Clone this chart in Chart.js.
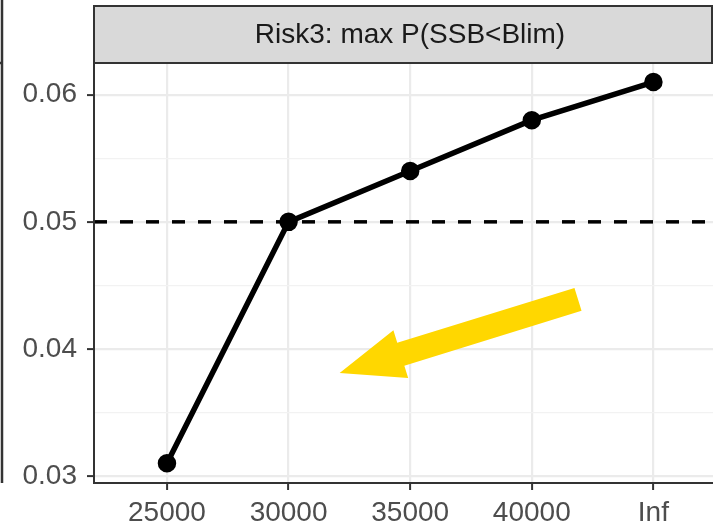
<!DOCTYPE html>
<html lang="en">
<head>
    <meta charset="UTF-8">
    <title>Risk3: max P(SSB&lt;Blim)</title>
    <style>
        html, body {
            margin: 0;
            padding: 0;
            background: #ffffff;
        }
        #chart {
            display: block;
        }
    </style>
    <script src="https://cdn.jsdelivr.net/npm/chart.js"></script>
</head>
<body>
    <canvas id="chart" width="713" height="527"></canvas>

    <script>
        // data
        const categories = ['25000', '30000', '35000', '40000', 'Inf'];
        const riskValues = [0.031, 0.050, 0.054, 0.058, 0.061];
        const stripTitle = 'Risk3: max P(SSB<Blim)';
        const yMajorTicks = [0.03, 0.04, 0.05, 0.06];
        const yMinorTicks = [0.035, 0.045, 0.055];
        const riskLimit = 0.05;
        // arrow annotation: [category index, value]
        const arrowFrom = [3.38, 0.0439];
        const arrowTo = [1.42, 0.0381];

        const FONT = "'Liberation Sans', Arial, sans-serif";
        const isMajor = v => yMajorTicks.some(t => Math.abs(t - v) < 1e-9);

        // ggplot-like facet strip, border, hline and arrow
        const ggPlugin = {
            id: 'ggDecor',
            beforeDatasetsDraw(chart) {
                const { ctx, chartArea: a, scales } = chart;
                const y = scales.y.getPixelForValue(riskLimit);
                ctx.save();
                ctx.strokeStyle = '#000';
                ctx.lineWidth = 3.5;
                ctx.setLineDash([13, 13]);
                ctx.beginPath();
                ctx.moveTo(a.left, y);
                ctx.lineTo(a.right, y);
                ctx.stroke();
                ctx.restore();
            },
            afterDatasetsDraw(chart) {
                const { ctx, scales } = chart;
                const x0 = scales.x.getPixelForValue(arrowFrom[0]);
                const y0 = scales.y.getPixelForValue(arrowFrom[1]);
                const x1 = scales.x.getPixelForValue(arrowTo[0]);
                const y1 = scales.y.getPixelForValue(arrowTo[1]);
                const len = Math.hypot(x1 - x0, y1 - y0);
                const ux = (x1 - x0) / len, uy = (y1 - y0) / len;
                const px = -uy, py = ux;
                const shaft = 12, head = 25, headLen = 64;
                const bx = x1 - ux * headLen, by = y1 - uy * headLen;
                ctx.save();
                ctx.fillStyle = '#ffd700';
                ctx.beginPath();
                ctx.moveTo(x0 + px * shaft, y0 + py * shaft);
                ctx.lineTo(bx + px * shaft, by + py * shaft);
                ctx.lineTo(bx + px * head, by + py * head);
                ctx.lineTo(x1, y1);
                ctx.lineTo(bx - px * head, by - py * head);
                ctx.lineTo(bx - px * shaft, by - py * shaft);
                ctx.lineTo(x0 - px * shaft, y0 - py * shaft);
                ctx.closePath();
                ctx.fill();
                ctx.restore();
            },
            afterDraw(chart) {
                const { ctx, chartArea: a } = chart;
                ctx.save();
                // strip
                const stripTop = 6;
                ctx.fillStyle = '#d9d9d9';
                ctx.fillRect(a.left, stripTop, 712 - a.left, a.top - stripTop);
                ctx.strokeStyle = '#333';
                ctx.lineWidth = 2;
                ctx.strokeRect(a.left, stripTop, 712 - a.left, a.top - stripTop);
                ctx.fillStyle = '#1a1a1a';
                ctx.font = '28px ' + FONT;
                ctx.textAlign = 'center';
                ctx.textBaseline = 'middle';
                ctx.fillText(stripTitle, (a.left + 726) / 2, (stripTop + a.top) / 2 + 1);
                // panel border (right side is cut off)
                ctx.beginPath();
                ctx.moveTo(a.right, a.top);
                ctx.lineTo(a.left, a.top);
                ctx.lineTo(a.left, a.bottom);
                ctx.lineTo(a.right, a.bottom);
                ctx.stroke();
                // edge of the neighbouring panel
                ctx.lineWidth = 2.5;
                ctx.beginPath();
                ctx.moveTo(2, 0);
                ctx.lineTo(2, a.bottom);
                ctx.moveTo(0, a.top);
                ctx.lineTo(3, a.top);
                ctx.stroke();
                ctx.restore();
            }
        };

        new Chart(document.getElementById('chart'), {
            type: 'line',
            data: {
                datasets: [{
                    data: riskValues.map((v, i) => ({ x: i, y: v })),
                    borderColor: '#000',
                    backgroundColor: '#000',
                    borderWidth: 5.5,
                    pointRadius: 6.5,
                    pointHoverRadius: 6.5,
                    tension: 0
                }]
            },
            options: {
                responsive: false,
                animation: false,
                events: [],
                layout: {
                    autoPadding: false,
                    padding: { top: 63, right: 0, left: 0, bottom: 0 }
                },
                plugins: {
                    legend: { display: false },
                    tooltip: { enabled: false }
                },
                scales: {
                    x: {
                        type: 'linear',
                        min: -0.6,
                        max: 4.49,
                        afterFit: s => {
                            s.height = 44;
                            s.paddingLeft = 0;
                            s.paddingRight = 0;
                        },
                        afterBuildTicks: s => { s.ticks = categories.map((c, i) => ({ value: i })); },
                        border: { display: false },
                        grid: {
                            color: '#ebebeb',
                            lineWidth: 2.2,
                            tickColor: '#333',
                            tickLength: 7,
                            tickWidth: 2
                        },
                        ticks: {
                            padding: 6,
                            color: '#4d4d4d',
                            font: { family: FONT, size: 28 },
                            maxRotation: 0,
                            autoSkip: false,
                            callback: v => categories[v]
                        }
                    },
                    y: {
                        type: 'linear',
                        min: 0.02945,
                        max: 0.0625,
                        afterFit: s => {
                            s.width = 94;
                            s.paddingTop = 0;
                            s.paddingBottom = 0;
                        },
                        afterBuildTicks: s => {
                            s.ticks = yMajorTicks.concat(yMinorTicks).sort().map(v => ({ value: v }));
                        },
                        border: { display: false },
                        grid: {
                            color: c => isMajor(c.tick.value) ? '#ebebeb' : '#f2f2f2',
                            lineWidth: c => isMajor(c.tick.value) ? 2.2 : 1.2,
                            tickColor: c => isMajor(c.tick.value) ? '#333' : 'rgba(0,0,0,0)',
                            tickLength: 7,
                            tickWidth: 2
                        },
                        ticks: {
                            padding: 10,
                            color: '#4d4d4d',
                            font: { family: FONT, size: 28 },
                            autoSkip: false,
                            callback: v => isMajor(v) ? v.toFixed(2) : ''
                        }
                    }
                }
            },
            plugins: [ggPlugin]
        });
    </script>
</body>
</html>
